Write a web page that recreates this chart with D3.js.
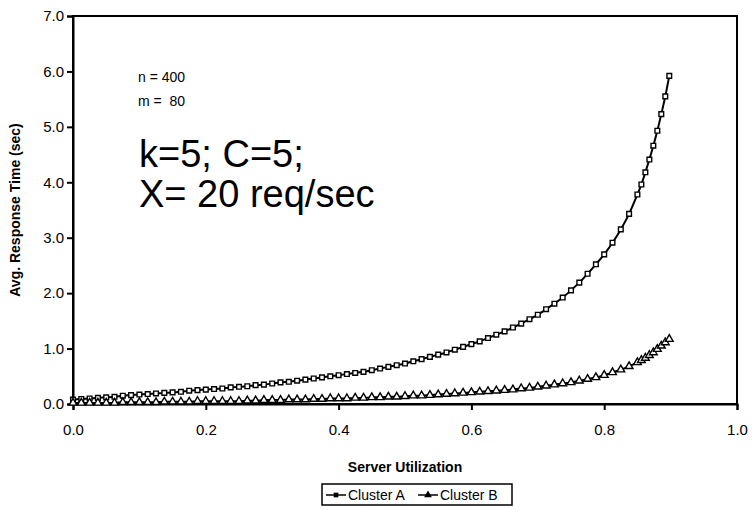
<!DOCTYPE html>
<html>
<head>
<meta charset="utf-8">
<script src="https://cdn.jsdelivr.net/npm/d3@7"></script>
<style>
  body { margin: 0; background: #fff; }
  text { font-family: Arial, "Liberation Sans", sans-serif; }
</style>
</head>
<body>
<div id="chart"></div>
<script>
			//Width and height
			var w = 752;
			var h = 510;
			var margin = {top: 16, right: 15, bottom: 106, left: 73};

			//Server utilization values (x)
			var utilization = [
				0, 0.0125, 0.025, 0.0375, 0.05, 0.0625, 0.075, 0.0875, 0.1, 0.1125, 0.125, 0.1375,
				0.15, 0.1625, 0.175, 0.1875, 0.2, 0.2125, 0.225, 0.2375, 0.25, 0.2625, 0.275, 0.2875,
				0.3, 0.3125, 0.325, 0.3375, 0.35, 0.3625, 0.375, 0.3875, 0.4, 0.4125, 0.425, 0.4375,
				0.45, 0.4625, 0.475, 0.4875, 0.5, 0.5125, 0.525, 0.5375, 0.55, 0.5625, 0.575, 0.5875,
				0.6, 0.6125, 0.625, 0.6375, 0.65, 0.6625, 0.675, 0.6875, 0.7, 0.7125, 0.725, 0.7375,
				0.75, 0.7625, 0.775, 0.7875, 0.8, 0.8125, 0.825, 0.8375, 0.85,
				0.856, 0.862, 0.868, 0.874, 0.88, 0.886, 0.892, 0.898
			];

			//Avg. response time, Cluster A
			var clusterA = [
				0.08, 0.09, 0.10, 0.11, 0.12, 0.13, 0.15, 0.16, 0.17, 0.18, 0.19, 0.20,
				0.21, 0.22, 0.24, 0.25, 0.26, 0.27, 0.28, 0.30, 0.31, 0.32, 0.34, 0.35,
				0.37, 0.39, 0.40, 0.42, 0.44, 0.46, 0.48, 0.50, 0.52, 0.54, 0.56, 0.58,
				0.61, 0.64, 0.67, 0.70, 0.73, 0.77, 0.81, 0.85, 0.89, 0.93, 0.98, 1.03,
				1.08, 1.13, 1.19, 1.25, 1.31, 1.38, 1.45, 1.53, 1.61, 1.71, 1.81, 1.92,
				2.05, 2.19, 2.35, 2.52, 2.70, 2.91, 3.15, 3.43, 3.78,
				3.96, 4.18, 4.41, 4.66, 4.93, 5.23, 5.55, 5.92
			];

			//Avg. response time, Cluster B
			var clusterB = [
				0.02, 0.02, 0.02, 0.02, 0.02, 0.02, 0.03, 0.03, 0.03, 0.03, 0.03, 0.04,
				0.04, 0.04, 0.04, 0.05, 0.05, 0.05, 0.05, 0.05, 0.05, 0.06, 0.06, 0.07,
				0.07, 0.07, 0.08, 0.08, 0.08, 0.09, 0.09, 0.10, 0.10, 0.10, 0.11, 0.11,
				0.12, 0.12, 0.13, 0.13, 0.14, 0.15, 0.15, 0.16, 0.17, 0.18, 0.19, 0.20,
				0.21, 0.22, 0.23, 0.24, 0.25, 0.26, 0.28, 0.29, 0.31, 0.33, 0.35, 0.37,
				0.39, 0.42, 0.45, 0.48, 0.52, 0.57, 0.62, 0.68, 0.75,
				0.79, 0.83, 0.88, 0.93, 0.99, 1.05, 1.11, 1.17
			];

			var seriesNames = ["Cluster A", "Cluster B"];
			var xTicks = [0, 0.2, 0.4, 0.6, 0.8, 1.0];
			var yTicks = [0, 1, 2, 3, 4, 5, 6, 7];
			var notes = ["n = 400", "m =  80"];
			var bigNotes = ["k=5; C=5;", "X= 20 req/sec"];

			var iw = w - margin.left - margin.right;
			var ih = h - margin.top - margin.bottom;

			//Set up scales
			var xScale = d3.scaleLinear().domain([0, 1]).range([0, iw]);
			var yScale = d3.scaleLinear().domain([0, 7]).range([ih, 0]);

			var series = [clusterA, clusterB].map(function(vals, k) {
				return {
					name: seriesNames[k],
					points: vals.map(function(v, i) { return [utilization[i], v]; })
				};
			});

			//Create SVG element
			var svg = d3.select("#chart")
						.append("svg")
						.attr("width", w)
						.attr("height", h)
						.append("g")
						.attr("transform", "translate(" + margin.left + "," + margin.top + ")");

			//Plot frame
			svg.append("rect")
				.attr("width", iw)
				.attr("height", ih)
				.attr("fill", "none")
				.attr("stroke", "#000")
				.attr("stroke-width", 2);

			//Axes
			var xAxis = d3.axisBottom(xScale).tickValues(xTicks).tickFormat(d3.format(".1f")).tickSize(6).tickPadding(14);
			var yAxis = d3.axisLeft(yScale).tickValues(yTicks).tickFormat(d3.format(".1f")).tickSize(6).tickPadding(3);

			svg.append("g")
				.attr("transform", "translate(0," + ih + ")")
				.call(xAxis)
				.call(function(g) {
					g.select(".domain").attr("stroke-width", 2);
					g.selectAll(".tick line").attr("stroke-width", 2);
					g.selectAll("text").attr("font-size", 15).attr("fill", "#000");
				});

			svg.append("g")
				.call(yAxis)
				.call(function(g) {
					g.select(".domain").attr("stroke-width", 2);
					g.selectAll(".tick line").attr("stroke-width", 2);
					g.selectAll("text").attr("font-size", 15).attr("fill", "#000");
				});

			//Axis titles
			svg.append("text")
				.attr("x", iw / 2)
				.attr("y", ih + 68)
				.attr("text-anchor", "middle")
				.attr("font-size", 14)
				.attr("font-weight", "bold")
				.text("Server Utilization");

			svg.append("text")
				.attr("transform", "translate(" + (-53) + "," + (ih / 2) + ") rotate(-90)")
				.attr("text-anchor", "middle")
				.attr("font-size", 14)
				.attr("font-weight", "bold")
				.text("Avg. Response Time (sec)");

			//Lines
			var line = d3.line()
				.x(function(d) { return xScale(d[0]); })
				.y(function(d) { return yScale(d[1]); })
				.curve(d3.curveMonotoneX);

			svg.selectAll(".series")
				.data(series)
				.enter()
				.append("path")
				.attr("class", "series")
				.attr("d", function(d) { return line(d.points); })
				.attr("fill", "none")
				.attr("stroke", "#000")
				.attr("stroke-width", 2);

			//Markers
			var square = d3.symbol().type(d3.symbolSquare).size(22);
			var triangle = d3.symbol().type(d3.symbolTriangle).size(26);
			var shapes = [square, triangle];

			series.forEach(function(s, k) {
				svg.append("g")
					.selectAll("path")
					.data(s.points)
					.enter()
					.append("path")
					.attr("transform", function(d) { return "translate(" + xScale(d[0]) + "," + yScale(d[1]) + ")"; })
					.attr("d", shapes[k])
					.attr("fill", "#fff")
					.attr("stroke", "#000")
					.attr("stroke-width", 1.4);
			});

			//Annotations
			svg.selectAll(".note")
				.data(notes)
				.enter()
				.append("text")
				.attr("class", "note")
				.attr("x", 65)
				.attr("y", function(d, i) { return 66 + i * 24; })
				.attr("font-size", 14)
				.style("white-space", "pre")
				.text(function(d) { return d; });

			svg.selectAll(".bignote")
				.data(bigNotes)
				.enter()
				.append("text")
				.attr("class", "bignote")
				.attr("x", 66)
				.attr("y", function(d, i) { return 151 + i * 40; })
				.attr("font-size", 38)
				.style("white-space", "pre")
				.text(function(d) { return d; });

			//Legend
			var legend = d3.select("svg").append("g").attr("transform", "translate(322,484)");
			legend.append("rect")
				.attr("width", 190)
				.attr("height", 21)
				.attr("fill", "#fff")
				.attr("stroke", "#000")
				.attr("stroke-width", 1.5);

			var items = legend.selectAll(".item")
				.data(seriesNames)
				.enter()
				.append("g")
				.attr("class", "item")
				.attr("transform", function(d, i) { return "translate(" + (4 + i * 92) + ",11)"; });

			items.append("line")
				.attr("x1", 0).attr("x2", 20)
				.attr("stroke", "#000")
				.attr("stroke-width", 1.5);

			items.append("path")
				.attr("transform", "translate(10,0)")
				.attr("d", function(d, i) { return shapes[i](); })
				.attr("fill", "#000");

			items.append("text")
				.attr("x", 22)
				.attr("y", 5)
				.attr("font-size", 14)
				.text(function(d) { return d; });
</script>
</body>
</html>
